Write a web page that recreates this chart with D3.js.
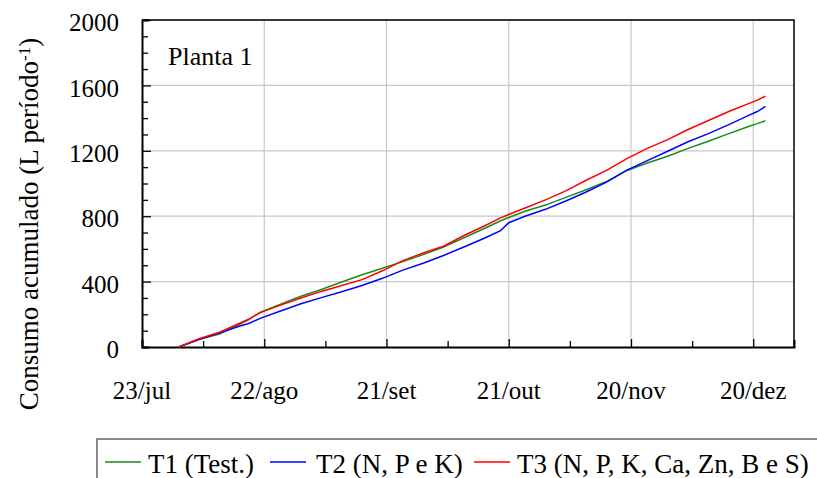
<!DOCTYPE html>
<html>
<head>
<meta charset="utf-8">
<script src="https://cdn.jsdelivr.net/npm/d3@7"></script>
<style>
  body { margin: 0; background: #fff; }
  svg text { font-family: "Liberation Serif", "Times New Roman", Times, serif; }
</style>
</head>
<body>
<div id="chart"></div>
<script>
// days after 23/jul
const days = [9, 14, 19, 24, 26, 29, 34, 39, 44, 49, 54, 59, 64, 69, 74, 79, 84, 88, 90, 94, 99, 104, 109, 114, 119, 124, 129, 134, 139, 144, 149, 151, 153];
const t1 = [0, 48, 80, 140, 165, 212, 262, 310, 352, 398, 442, 482, 522, 565, 612, 668, 725, 772, 792, 830, 868, 915, 962, 1012, 1080, 1125, 1167, 1215, 1258, 1305, 1350, 1366, 1384];
const t2 = [0, 45, 85, 128, 142, 175, 220, 265, 302, 338, 376, 420, 470, 512, 560, 612, 665, 712, 760, 800, 842, 893, 948, 1008, 1082, 1140, 1197, 1255, 1305, 1360, 1418, 1440, 1472];
const t3 = [0, 50, 90, 145, 168, 210, 256, 300, 340, 376, 412, 466, 528, 575, 616, 682, 740, 790, 810, 850, 900, 955, 1020, 1080, 1152, 1215, 1268, 1330, 1385, 1440, 1490, 1510, 1534];

const xTicks = [0, 30, 60, 90, 120, 150];
const xLabels = ["23/jul", "22/ago", "21/set", "21/out", "20/nov", "20/dez"];
const yTicks = [0, 400, 800, 1200, 1600, 2000];
const seriesNames = ["T1 (Test.)", "T2 (N, P e K)", "T3 (N, P, K, Ca, Zn, B e S)"];
const colours = ["#1a8a1a", "#0000ff", "#ff0000"];

const width = 817, height = 478;
const margin = { top: 20, right: 23, bottom: 131, left: 142 };

const svg = d3.select("#chart").append("svg")
    .attr("width", width)
    .attr("height", height);

const x = d3.scaleLinear().domain([0, 160]).range([margin.left, width - margin.right]);
const y = d3.scaleLinear().domain([0, 2000]).range([height - margin.bottom, margin.top]);

// grid
svg.append("g").selectAll("line").data(yTicks.slice(1))
  .join("line")
    .attr("x1", x(0)).attr("x2", x(160))
    .attr("y1", d => y(d)).attr("y2", d => y(d))
    .attr("stroke", "#c8c8c8").attr("stroke-width", 1.2);
svg.append("g").selectAll("line").data(xTicks.slice(1))
  .join("line")
    .attr("x1", d => x(d)).attr("x2", d => x(d))
    .attr("y1", y(0)).attr("y2", y(2000))
    .attr("stroke", "#c8c8c8").attr("stroke-width", 1.2);

// frame top/right
svg.append("path")
    .attr("d", `M${x(0)},${y(2000)}H${x(160)}V${y(0)}`)
    .attr("fill", "none").attr("stroke", "#000").attr("stroke-width", 1.5);

// y axis, ticks inside
const yAxis = d3.axisRight(y).tickValues(d3.range(0, 2001, 100)).tickSize(7).tickFormat("");
const gy = svg.append("g").attr("transform", `translate(${x(0)},0)`).call(yAxis);
gy.selectAll(".tick line").attr("x2", d => d % 400 === 0 ? 9 : 6).attr("stroke-width", 1.3);
gy.select(".domain").attr("stroke-width", 2);
svg.append("g").selectAll("text").data(yTicks)
  .join("text")
    .attr("x", 119).attr("y", d => y(d)).attr("dy", "0.45em")
    .attr("text-anchor", "end")
    .style("font-size", "25px")
    .text(d => d);

// x axis, ticks inside
const xAxis = d3.axisTop(x).tickValues(d3.range(0, 160, 15)).tickSize(7).tickFormat("");
const gx = svg.append("g").attr("transform", `translate(0,${y(0)})`).call(xAxis);
gx.selectAll(".tick line").attr("y2", d => d % 30 === 0 ? -8 : -6).attr("stroke-width", 1.3);
gx.select(".domain").attr("stroke-width", 2);
svg.append("g").selectAll("text").data(xTicks)
  .join("text")
    .attr("x", d => x(d)).attr("y", 399)
    .attr("text-anchor", "middle")
    .style("font-size", "25px")
    .text((d, i) => xLabels[i]);

// lines
const line = d3.line().x(d => x(d[0])).y(d => y(d[1]));
[t1, t2, t3].forEach((s, i) => {
  svg.append("path")
      .datum(days.map((d, j) => [d, s[j]]))
      .attr("fill", "none")
      .attr("stroke", colours[i])
      .attr("stroke-width", 1.5)
      .attr("d", line);
});

// y label
const yl = svg.append("text")
    .attr("transform", "translate(38,224) rotate(-90)")
    .attr("text-anchor", "middle")
    .style("font-size", "27px");
yl.append("tspan").text("Consumo acumulado (L período");
yl.append("tspan").attr("dy", "-0.5em").style("font-size", "17px").text("-1");
yl.append("tspan").attr("dy", "0.32em").text(")");

svg.append("text")
    .attr("x", 168).attr("y", 65)
    .style("font-size", "26px")
    .text("Planta 1");

// legend
svg.append("rect")
    .attr("x", 97).attr("y", 439)
    .attr("width", 740).attr("height", 60)
    .attr("fill", "none").attr("stroke", "#666").attr("stroke-width", 1.5);
const legendX = [105, 270, 474];
const legendTextX = [148, 316, 517];
seriesNames.forEach((name, i) => {
  svg.append("line")
      .attr("x1", legendX[i]).attr("x2", legendX[i] + 36)
      .attr("y1", 462).attr("y2", 462)
      .attr("stroke", colours[i]).attr("stroke-width", 1.5);
  svg.append("text")
      .attr("x", legendTextX[i]).attr("y", 473)
      .style("font-size", "27px")
      .text(name);
});
</script>
</body>
</html>
